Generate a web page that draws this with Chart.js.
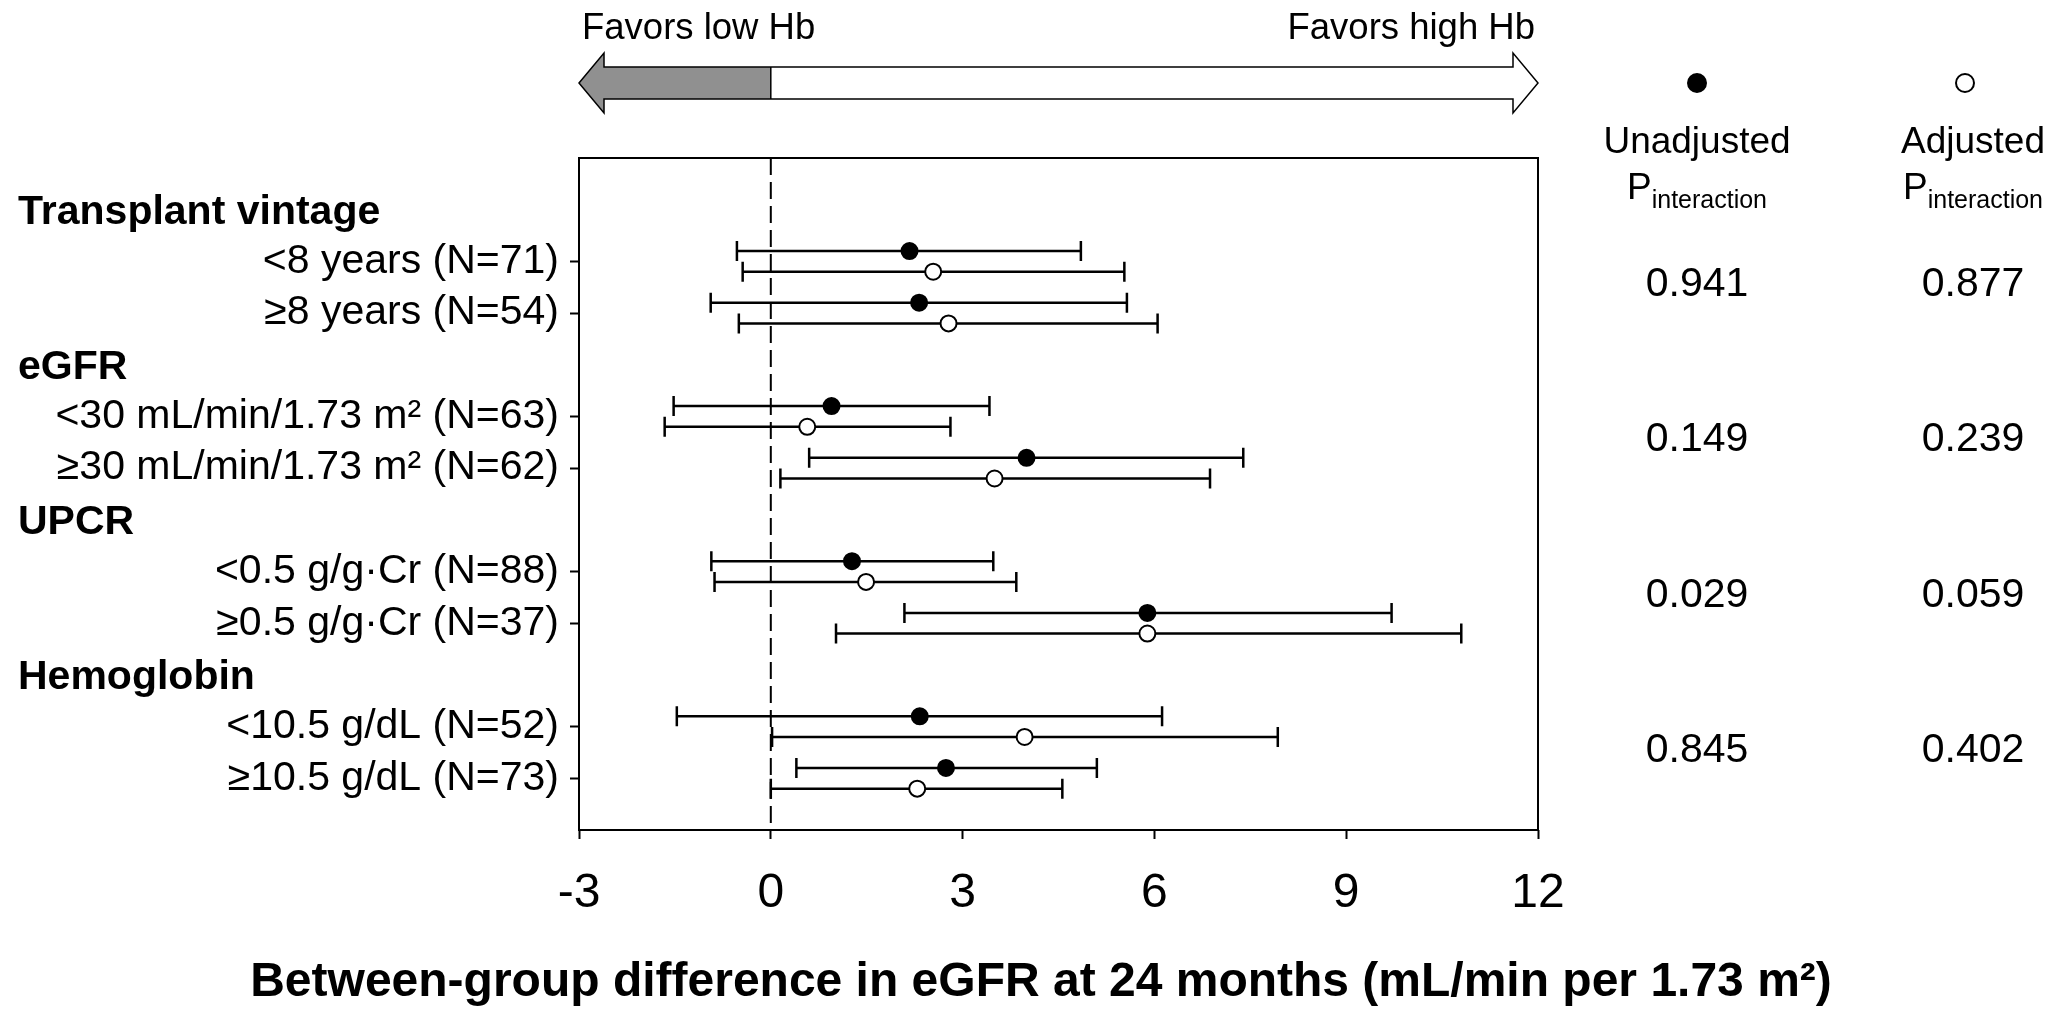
<!DOCTYPE html>
<html>
<head>
<meta charset="utf-8">
<script src="https://cdn.jsdelivr.net/npm/chart.js@4.4.1/dist/chart.umd.min.js"></script>
<style>
  html, body { margin: 0; padding: 0; background: #fff; }
  #wrap { width: 2057px; height: 1009px; }
</style>
</head>
<body>
<div id="wrap"><canvas id="forest"></canvas></div>
<script>
// subgroup rows
const groupNames = ["Transplant vintage", "eGFR", "UPCR", "Hemoglobin"];
const rowLabels = [
  "<8 years (N=71)",
  "\u22658 years (N=54)",
  "<30 mL/min/1.73 m\u00b2 (N=63)",
  "\u226530 mL/min/1.73 m\u00b2 (N=62)",
  "<0.5 g/g\u00b7Cr (N=88)",
  "\u22650.5 g/g\u00b7Cr (N=37)",
  "<10.5 g/dL (N=52)",
  "\u226510.5 g/dL (N=73)",
];
const rowGroup = [0, 0, 1, 1, 2, 2, 3, 3];

// between-group difference with 95% CI
const unadjEst = [2.17, 2.32, 0.95, 4.0, 1.27, 5.89, 2.33, 2.74];
const unadjLo = [-0.53, -0.94, -1.52, 0.6, -0.93, 2.09, -1.47, 0.4];
const unadjHi = [4.85, 5.57, 3.42, 7.39, 3.48, 9.71, 6.12, 5.1];
const adjEst = [2.54, 2.78, 0.57, 3.5, 1.49, 5.89, 3.97, 2.29];
const adjLo = [-0.44, -0.5, -1.66, 0.15, -0.88, 1.02, 0.02, 0.0];
const adjHi = [5.53, 6.05, 2.81, 6.87, 3.84, 10.8, 7.93, 4.56];

// p for interaction, one per group
const pUnadj = ["0.941", "0.149", "0.029", "0.845"];
const pAdj = ["0.877", "0.239", "0.059", "0.402"];

const xTicks = [-3, 0, 3, 6, 9, 12];

const FONT = "'Liberation Sans', Arial, sans-serif";

// each group takes a header slot and then one slot per row
const headerSlot = groupNames.map((n, g) => g * 3);
const rowSlot = rowGroup.map((g, i) => g * 3 + 1 + (i > 0 && rowGroup[i - 1] === g ? 1 : 0));

const unadjPoints = unadjEst.map((v, i) => ({ x: v, y: rowSlot[i] - 0.2 }));
const adjPoints = adjEst.map((v, i) => ({ x: v, y: rowSlot[i] + 0.2 }));

// extra drawing: zero line, CI whiskers, frame, headers, arrow, p columns, title
const forestDecor = {
  id: "forestDecor",
  beforeDatasetsDraw(chart) {
    const { ctx, chartArea: a, scales } = chart;
    const x = scales.x, y = scales.y;
    ctx.save();
    ctx.strokeStyle = "#000";
    ctx.lineWidth = 2;
    ctx.setLineDash([17, 7]);
    const x0 = x.getPixelForValue(0);
    ctx.beginPath();
    ctx.moveTo(x0, a.top);
    ctx.lineTo(x0, a.bottom);
    ctx.stroke();
    ctx.setLineDash([]);

    ctx.lineWidth = 2.5;
    const whisker = (lo, hi, yv) => {
      const py = y.getPixelForValue(yv);
      const pl = x.getPixelForValue(lo);
      const ph = x.getPixelForValue(hi);
      ctx.beginPath();
      ctx.moveTo(pl, py);
      ctx.lineTo(ph, py);
      ctx.moveTo(pl, py - 10);
      ctx.lineTo(pl, py + 10);
      ctx.moveTo(ph, py - 10);
      ctx.lineTo(ph, py + 10);
      ctx.stroke();
    };
    rowSlot.forEach((s, i) => {
      whisker(unadjLo[i], unadjHi[i], s - 0.2);
      whisker(adjLo[i], adjHi[i], s + 0.2);
    });
    ctx.restore();
  },
  afterDraw(chart) {
    const { ctx, chartArea: a, scales } = chart;
    const x = scales.x, y = scales.y;
    ctx.save();

    // frame
    ctx.strokeStyle = "#000";
    ctx.lineWidth = 2;
    ctx.strokeRect(a.left, a.top, a.right - a.left, a.bottom - a.top);

    // group headers
    ctx.fillStyle = "#000";
    ctx.font = "bold 41px " + FONT;
    ctx.textAlign = "left";
    ctx.textBaseline = "middle";
    headerSlot.forEach((s, g) => {
      ctx.fillText(groupNames[g], 18, y.getPixelForValue(s) + 3);
    });

    // favors arrow
    const L = x.getPixelForValue(x.min), R = x.getPixelForValue(x.max);
    const x0 = x.getPixelForValue(0);
    const cy = 83, bh = 16, hh = 30, hl = 25;
    const outline = () => {
      ctx.beginPath();
      ctx.moveTo(L, cy);
      ctx.lineTo(L + hl, cy - hh);
      ctx.lineTo(L + hl, cy - bh);
      ctx.lineTo(R - hl, cy - bh);
      ctx.lineTo(R - hl, cy - hh);
      ctx.lineTo(R, cy);
      ctx.lineTo(R - hl, cy + hh);
      ctx.lineTo(R - hl, cy + bh);
      ctx.lineTo(L + hl, cy + bh);
      ctx.lineTo(L + hl, cy + hh);
      ctx.closePath();
    };
    outline();
    ctx.fillStyle = "#fff";
    ctx.fill();
    ctx.beginPath();
    ctx.moveTo(L, cy);
    ctx.lineTo(L + hl, cy - hh);
    ctx.lineTo(L + hl, cy - bh);
    ctx.lineTo(x0, cy - bh);
    ctx.lineTo(x0, cy + bh);
    ctx.lineTo(L + hl, cy + bh);
    ctx.lineTo(L + hl, cy + hh);
    ctx.closePath();
    ctx.fillStyle = "#909090";
    ctx.fill();
    outline();
    ctx.moveTo(x0, cy - bh);
    ctx.lineTo(x0, cy + bh);
    ctx.lineWidth = 1.5;
    ctx.strokeStyle = "#000";
    ctx.stroke();

    ctx.fillStyle = "#000";
    ctx.font = "36.5px " + FONT;
    ctx.textBaseline = "middle";
    ctx.textAlign = "left";
    ctx.fillText("Favors low Hb", L + 3, 29);
    ctx.textAlign = "right";
    ctx.fillText("Favors high Hb", R - 3, 29);

    // p-interaction columns
    const cols = [
      { cx: 1697, dot: 1697, head: "Unadjusted", vals: pUnadj, filled: true },
      { cx: 1973, dot: 1965, head: "Adjusted", vals: pAdj, filled: false },
    ];
    cols.forEach((c) => {
      ctx.beginPath();
      ctx.arc(c.dot, 83, 9, 0, Math.PI * 2);
      ctx.fillStyle = c.filled ? "#000" : "#fff";
      ctx.fill();
      ctx.lineWidth = 2;
      ctx.strokeStyle = "#000";
      ctx.stroke();

      ctx.fillStyle = "#000";
      ctx.textAlign = "center";
      ctx.textBaseline = "alphabetic";
      ctx.font = "37px " + FONT;
      ctx.fillText(c.head, c.cx, 153);

      const wP = ctx.measureText("P").width;
      ctx.font = "25px " + FONT;
      const wS = ctx.measureText("interaction").width;
      const start = c.cx - (wP + wS) / 2;
      ctx.textAlign = "left";
      ctx.font = "37px " + FONT;
      ctx.fillText("P", start, 199);
      ctx.font = "25px " + FONT;
      ctx.fillText("interaction", start + wP, 208);

      ctx.textAlign = "center";
      ctx.textBaseline = "middle";
      ctx.font = "41px " + FONT;
      c.vals.forEach((v, g) => {
        const rows = rowSlot.filter((s, i) => rowGroup[i] === g);
        const mid = rows.reduce((p, q) => p + q, 0) / rows.length - 0.1;
        ctx.fillText(v, c.cx, y.getPixelForValue(mid) + 3);
      });
    });

    // x axis title
    ctx.font = "bold 48px " + FONT;
    ctx.textAlign = "center";
    ctx.textBaseline = "middle";
    ctx.fillText("Between-group difference in eGFR at 24 months (mL/min per 1.73 m\u00b2)", 1041, 983);

    ctx.restore();
  },
};

const ctx = document.getElementById("forest").getContext("2d");
new Chart(ctx, {
  type: "scatter",
  data: {
    datasets: [
      {
        label: "Unadjusted",
        data: unadjPoints,
        pointRadius: 8,
        pointBackgroundColor: "#000",
        pointBorderColor: "#000",
        pointBorderWidth: 2,
      },
      {
        label: "Adjusted",
        data: adjPoints,
        pointRadius: 8,
        pointBackgroundColor: "#fff",
        pointBorderColor: "#000",
        pointBorderWidth: 2,
      },
    ],
  },
  options: {
    responsive: true,
    maintainAspectRatio: false,
    animation: false,
    layout: { padding: { left: 0, right: 519, top: 158, bottom: 0 } },
    scales: {
      x: {
        type: "linear",
        min: xTicks[0],
        max: xTicks[xTicks.length - 1],
        afterBuildTicks: (scale) => {
          scale.ticks = xTicks.map((v) => ({ value: v }));
        },
        // axis box reaches the bottom edge so the plot frame ends at y=830
        afterFit: (scale) => {
          scale.height = 179;
        },
        border: { display: false },
        grid: {
          drawOnChartArea: false,
          drawTicks: true,
          tickLength: 9,
          tickWidth: 2,
          tickColor: "#000",
        },
        ticks: {
          color: "#000",
          padding: 26,
          maxRotation: 0,
          font: { family: FONT, size: 48 },
        },
      },
      y: {
        type: "linear",
        reverse: true,
        min: -1,
        max: 12,
        afterBuildTicks: (scale) => {
          scale.ticks = rowSlot.map((v) => ({ value: v }));
        },
        // axis box spans from the left edge so the plot frame starts at x=579
        afterFit: (scale) => {
          scale.width = 579;
        },
        border: { display: false },
        grid: {
          drawOnChartArea: false,
          drawTicks: true,
          tickLength: 9,
          tickWidth: 2,
          tickColor: "#000",
        },
        ticks: {
          color: "#000",
          padding: 11,
          font: { family: FONT, size: 41 },
          callback: (v, i) => rowLabels[i],
        },
      },
    },
    plugins: {
      legend: { display: false },
      tooltip: { enabled: false },
    },
  },
  plugins: [forestDecor],
});
</script>
</body>
</html>
